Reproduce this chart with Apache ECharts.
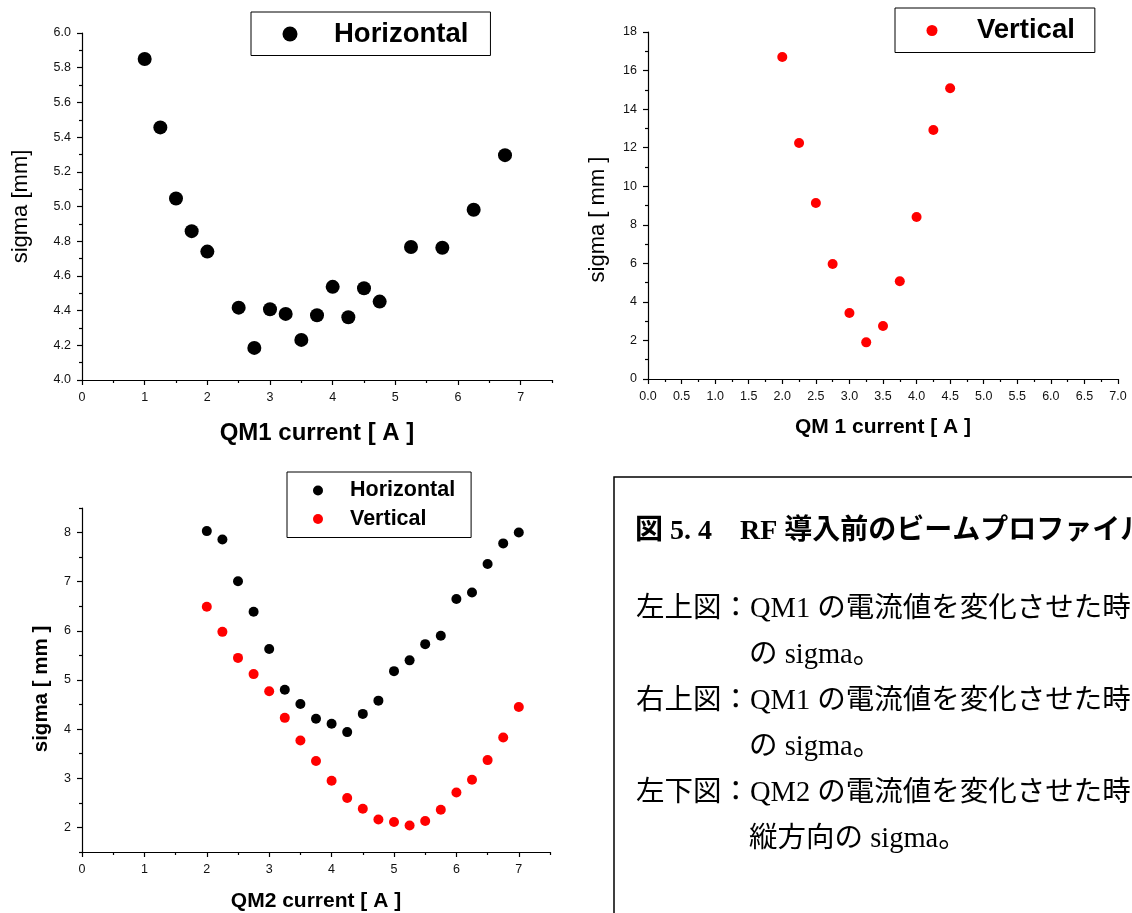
<!DOCTYPE html>
<html>
<head>
<meta charset="utf-8">
<script src="https://cdn.jsdelivr.net/npm/echarts@6/dist/echarts.min.js"></script>
<style>
  html, body { margin: 0; padding: 0; background: #fff; }
  #chart { width: 1132px; height: 913px; }
</style>
</head>
<body>
<div id="chart"></div>
<script>
// QM1 scan, horizontal beam size
const qm1HorCurrent = [1, 1.25, 1.5, 1.75, 2, 2.5, 2.75, 3, 3.25, 3.5, 3.75, 4, 4.25, 4.5, 4.75, 5.25, 5.75, 6.25, 6.75];
const qm1HorSigma   = [5.85, 5.456, 5.046, 4.858, 4.74, 4.417, 4.185, 4.408, 4.381, 4.231, 4.373, 4.537, 4.362, 4.529, 4.452, 4.767, 4.762, 4.981, 5.296];

// QM1 scan, vertical beam size
const qm1VerCurrent = [2, 2.25, 2.5, 2.75, 3, 3.25, 3.5, 3.75, 4, 4.25, 4.5];
const qm1VerSigma   = [16.7, 12.24, 9.13, 5.97, 3.42, 1.9, 2.75, 5.07, 8.4, 12.92, 15.08];

// QM2 scan, both planes
const qm2Current  = [2, 2.25, 2.5, 2.75, 3, 3.25, 3.5, 3.75, 4, 4.25, 4.5, 4.75, 5, 5.25, 5.5, 5.75, 6, 6.25, 6.5, 6.75, 7];
const qm2HorSigma = [8.03, 7.86, 7.01, 6.39, 5.63, 4.80, 4.51, 4.21, 4.11, 3.94, 4.31, 4.58, 5.18, 5.40, 5.73, 5.90, 6.65, 6.78, 7.36, 7.78, 8.00];
const qm2VerSigma = [6.49, 5.98, 5.45, 5.12, 4.77, 4.23, 3.77, 3.35, 2.95, 2.60, 2.38, 2.16, 2.11, 2.04, 2.13, 2.36, 2.71, 2.97, 3.37, 3.83, 4.45];

// Tick positions
const tlXMajor = [0, 1, 2, 3, 4, 5, 6, 7];
const tlXMinor = [0.5, 1.5, 2.5, 3.5, 4.5, 5.5, 6.5, 7.5];
const tlYMajor = [4.0, 4.2, 4.4, 4.6, 4.8, 5.0, 5.2, 5.4, 5.6, 5.8, 6.0];
const tlYMinor = [4.1, 4.3, 4.5, 4.7, 4.9, 5.1, 5.3, 5.5, 5.7, 5.9];
const trXMajor = [0, 0.5, 1, 1.5, 2, 2.5, 3, 3.5, 4, 4.5, 5, 5.5, 6, 6.5, 7];
const trXMinor = [0.25, 0.75, 1.25, 1.75, 2.25, 2.75, 3.25, 3.75, 4.25, 4.75, 5.25, 5.75, 6.25, 6.75];
const trYMajor = [0, 2, 4, 6, 8, 10, 12, 14, 16, 18];
const trYMinor = [1, 3, 5, 7, 9, 11, 13, 15, 17];
const blXMajor = [0, 1, 2, 3, 4, 5, 6, 7];
const blXMinor = [0.5, 1.5, 2.5, 3.5, 4.5, 5.5, 6.5, 7.5];
const blYMajor = [2, 3, 4, 5, 6, 7, 8];
const blYMinor = [1.5, 2.5, 3.5, 4.5, 5.5, 6.5, 7.5, 8.5];

// Caption text
const captionTitle = '図 5. 4　RF 導入前のビームプロファイル';
const captionLines = [
  { text: '左上図：QM1 の電流値を変化させた時', indent: false },
  { text: 'の sigma。', indent: true },
  { text: '右上図：QM1 の電流値を変化させた時', indent: false },
  { text: 'の sigma。', indent: true },
  { text: '左下図：QM2 の電流値を変化させた時', indent: false },
  { text: '縦方向の sigma。', indent: true }
];

const SANS = "'Liberation Sans', Arial, sans-serif";
const DOC_FONT = "'Liberation Serif', 'Noto Sans CJK JP', serif";

// Builds a main axis (line, major ticks, labels, name) plus an overlay axis carrying only minor ticks.
function axisPair(dim, gridIndex, min, max, majors, minors, fmt, name, nameCfg) {
  const position = dim === 'x' ? 'bottom' : 'left';
  const main = {
    type: 'value', gridIndex, min, max, position, offset: 0,
    splitLine: { show: false },
    axisLine: { show: true, onZero: false, lineStyle: { color: '#000', width: 1.2 } },
    axisTick: { show: true, inside: false, length: 5, customValues: majors, lineStyle: { color: '#000', width: 1.2 } },
    axisLabel: { show: true, customValues: majors, formatter: fmt, margin: 11,
      color: '#111', fontSize: 12.5, fontFamily: SANS },
    name, nameLocation: 'middle', nameGap: nameCfg.gap,
    nameTextStyle: { fontSize: nameCfg.size, fontWeight: nameCfg.weight, fontFamily: SANS, color: '#000',
      padding: nameCfg.pad || 0 }
  };
  const minor = {
    type: 'value', gridIndex, min, max, position, offset: 0,
    splitLine: { show: false },
    axisLine: { show: false, onZero: false },
    axisTick: { show: true, inside: false, length: 3, customValues: minors, lineStyle: { color: '#000', width: 1.2 } },
    axisLabel: { show: false }
  };
  return [main, minor];
}

const f0 = v => String(v);
const f1 = v => v.toFixed(1);

const xAxes = [].concat(
  axisPair('x', 0, 0, 7.5, tlXMajor, tlXMinor, f0, 'QM1 current [ A ]', { gap: 41, size: 24, weight: 'bold' }),
  axisPair('x', 1, 0, 7, trXMajor, trXMinor, f1, 'QM 1 current [ A ]', { gap: 38, size: 21, weight: 'bold' }),
  axisPair('x', 2, 0, 7.5, blXMajor, blXMinor, f0, 'QM2 current [ A ]', { gap: 39, size: 21, weight: 'bold' })
);
const yAxes = [].concat(
  axisPair('y', 0, 4, 6, tlYMajor, tlYMinor, f1, 'sigma [mm]', { gap: 50, size: 22, weight: 'normal' }),
  axisPair('y', 1, 0, 18, trYMajor, trYMinor, f0, 'sigma [ mm ]', { gap: 39, size: 22, weight: 'normal', pad: [0, 28, 0, 0] }),
  axisPair('y', 2, 1.5, 8.5, blYMajor, blYMinor, f0, 'sigma [ mm ]', { gap: 30, size: 20.5, weight: 'bold', pad: [0, 18, 0, 0] })
);

const legendText = size => ({ fontSize: size, fontWeight: 'bold', fontFamily: SANS, color: '#000' });

const option = {
  backgroundColor: '#fff',
  animation: false,
  grid: [
    { left: 82, top: 33, width: 470, height: 347 },
    { left: 648, top: 32, width: 470, height: 347 },
    { left: 82, top: 508, width: 468, height: 347 }
  ],
  xAxis: xAxes,
  yAxis: yAxes,
  legend: [
    { data: ['Horizontal'], left: 251, top: 12, orient: 'vertical', icon: 'circle',
      itemWidth: 78, itemHeight: 15, selectedMode: false,
      borderColor: '#000', borderWidth: 1, padding: [8, 22, 7.5, 31.5],
      textStyle: legendText(27.5) },
    { data: ['Vertical'], left: 895, top: 8, orient: 'vertical', icon: 'circle',
      itemWidth: 80, itemHeight: 11, selectedMode: false,
      borderColor: '#000', borderWidth: 1, padding: [8.5, 20, 8, 31.5],
      textStyle: legendText(27.5) },
    { data: ['Horizontal', 'Vertical'], left: 287, top: 472, orient: 'vertical', icon: 'circle',
      itemWidth: 54, itemHeight: 10, itemGap: 6.5, selectedMode: false,
      borderColor: '#000', borderWidth: 1, padding: [7.5, 16, 7.5, 26],
      textStyle: legendText(21.5) }
  ],
  series: [
    { name: 'Horizontal', type: 'scatter', xAxisIndex: 0, yAxisIndex: 0, symbolSize: 14,
      itemStyle: { color: '#000', opacity: 1 }, data: qm1HorCurrent.map((x, i) => [x, qm1HorSigma[i]]) },
    { name: 'Vertical', type: 'scatter', xAxisIndex: 2, yAxisIndex: 2, symbolSize: 10,
      itemStyle: { color: '#ff0000', opacity: 1 }, data: qm1VerCurrent.map((x, i) => [x, qm1VerSigma[i]]) },
    { name: 'Horizontal', type: 'scatter', xAxisIndex: 4, yAxisIndex: 4, symbolSize: 10,
      itemStyle: { color: '#000', opacity: 1 }, data: qm2Current.map((x, i) => [x, qm2HorSigma[i]]) },
    { name: 'Vertical', type: 'scatter', xAxisIndex: 4, yAxisIndex: 4, symbolSize: 10,
      itemStyle: { color: '#ff0000', opacity: 1 }, data: qm2Current.map((x, i) => [x, qm2VerSigma[i]]) }
  ],
  graphic: [
    { type: 'rect', shape: { x: 614, y: 477, width: 700, height: 600 },
      style: { fill: 'none', stroke: '#000', lineWidth: 1.5 } },
    { type: 'text', x: 635, y: 532,
      style: { text: captionTitle, font: 'bold 28px ' + DOC_FONT, fill: '#000', verticalAlign: 'middle' } }
  ].concat(captionLines.map((ln, i) => ({
    type: 'text', x: ln.indent ? 749 : 636, y: 610 + i * 46,
    style: { text: ln.text, font: '28.5px ' + DOC_FONT, fill: '#000', verticalAlign: 'middle' }
  })))
};

const chart = echarts.init(document.getElementById('chart'), null, { renderer: 'canvas' });
chart.setOption(option);
</script>
</body>
</html>
